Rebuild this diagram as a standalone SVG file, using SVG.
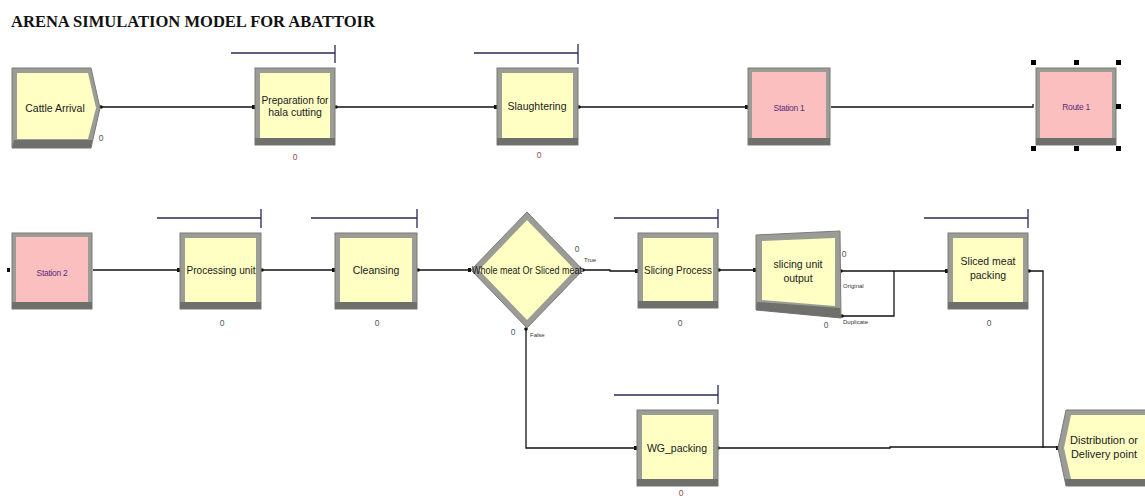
<svg xmlns="http://www.w3.org/2000/svg" width="1145" height="498" viewBox="0 0 1145 498">
<style>
.bord{fill:#9c9c96;stroke:#7a7a76;stroke-width:1}
.shade{fill:#6f6f6b}
.yel{fill:#ffffc4}
.pink{fill:#fcbfbf}
.lbl{font-family:"Liberation Sans",Arial,sans-serif;font-size:10.5px;fill:#1a1a1a;text-anchor:middle}
.st{font-family:"Liberation Sans",Arial,sans-serif;font-size:8.5px;fill:#5a2d7a;text-anchor:middle;letter-spacing:-0.3px}
.cnt{font-family:"Liberation Sans",Arial,sans-serif;font-size:8.5px;fill:#555;text-anchor:middle}
.cntr{font-family:"Liberation Sans",Arial,sans-serif;font-size:8.5px;fill:#9a4a4a;text-anchor:middle}
.sm{font-family:"Liberation Sans",Arial,sans-serif;font-size:6px;fill:#333}
.res{stroke:#2a2a55;stroke-width:1.3;fill:none}
.con{stroke:#111;stroke-width:1.3;fill:none}
.pt{fill:#111}
.hdl{fill:#000}
</style>
<text x="11" y="27" font-family="Liberation Serif,Times New Roman,serif" font-weight="bold" font-size="16" fill="#111" textLength="364" lengthAdjust="spacingAndGlyphs">ARENA SIMULATION MODEL  FOR ABATTOIR</text>

<g id="connectors">
<path class="con" d="M101,107H254"/>
<path class="con" d="M336,107H496"/>
<path class="con" d="M579,107H747"/>
<path class="con" d="M831,107H1033v-3"/>
<path class="con" d="M93,270H179"/>
<path class="con" d="M262,270H334"/>
<path class="con" d="M418,270H470"/>
<path class="con" d="M583,270H610v1H637"/>
<path class="con" d="M719,270H755"/>
<path class="con" d="M841,271H947"/>
<path class="con" d="M842,316H894V271"/>
<path class="con" d="M1029,271H1043V448"/>
<path class="con" d="M718,448H890v-1H1058"/>
<path class="con" d="M526,329V448H636"/>
<rect class="pt" x="252" y="105" width="3" height="4"/>
<rect class="pt" x="494" y="105" width="3" height="4"/>
<rect class="pt" x="745" y="105" width="3" height="4"/>
<rect class="pt" x="7" y="268" width="3" height="4"/>
<rect class="pt" x="177" y="268" width="3" height="4"/>
<rect class="pt" x="332" y="268" width="3" height="4"/>
<rect class="pt" x="468" y="268" width="3" height="4"/>
<rect class="pt" x="635" y="269" width="3" height="4"/>
<rect class="pt" x="753" y="268" width="3" height="4"/>
<rect class="pt" x="945" y="269" width="3" height="4"/>
<rect class="pt" x="634" y="446" width="3" height="4"/>
<rect class="pt" x="1056" y="446" width="3" height="4"/>
<circle class="pt" cx="101" cy="107" r="1.8"/>
<circle class="pt" cx="336" cy="107" r="1.8"/>
<circle class="pt" cx="579" cy="107" r="1.8"/>
<circle class="pt" cx="262" cy="270" r="1.8"/>
<circle class="pt" cx="418" cy="270" r="1.8"/>
<circle class="pt" cx="583" cy="270" r="1.8"/>
<circle class="pt" cx="719" cy="270" r="1.8"/>
<circle class="pt" cx="841" cy="271" r="1.8"/>
<circle class="pt" cx="842" cy="316" r="1.8"/>
<circle class="pt" cx="1029" cy="271" r="1.8"/>
<circle class="pt" cx="718" cy="448" r="1.8"/>
<circle class="pt" cx="526" cy="329" r="1.8"/>
</g>

<g id="cattle-arrival">
<polygon class="bord" points="12,68 91,68 100,108 91,148 12,148"/>
<polygon class="shade" points="14,140 92,140 91,148 12,148"/>
<polygon class="yel" points="17,73 88,73 96,108 88,139 17,139"/>
<text class="lbl" x="55" y="112">Cattle Arrival</text>
<text class="cnt" x="101" y="141">0</text>
</g>

<g id="preparation">
<path class="res" d="M231,53H335M335,45V63"/>
<rect class="bord" x="255" y="68" width="80" height="77"/>
<rect class="shade" x="255" y="138" width="80" height="7"/>
<rect class="yel" x="260" y="73" width="70" height="65"/>
<text class="lbl" x="295" y="104" textLength="67" lengthAdjust="spacingAndGlyphs">Preparation for</text>
<text class="lbl" x="295" y="116">hala cutting</text>
<text class="cntr" x="295" y="160">0</text>
</g>

<g id="slaughtering">
<path class="res" d="M474,53H578M578,44V64"/>
<rect class="bord" x="497" y="68" width="81" height="77"/>
<rect class="shade" x="497" y="138" width="81" height="7"/>
<rect class="yel" x="502" y="73" width="71" height="65"/>
<text class="lbl" x="537" y="110">Slaughtering</text>
<text class="cntr" x="539" y="158">0</text>
</g>

<g id="station1">
<rect class="bord" x="748" y="68" width="82" height="77"/>
<rect class="shade" x="748" y="138" width="82" height="7"/>
<rect class="pink" x="752" y="72" width="74" height="66"/>
<text class="st" x="789" y="111">Station 1</text>
</g>

<g id="route1">
<rect class="bord" x="1036" y="68" width="80" height="77"/>
<rect class="shade" x="1036" y="138" width="80" height="7"/>
<rect class="pink" x="1040" y="72" width="72" height="66"/>
<text class="st" x="1076" y="110">Route 1</text>
<rect class="hdl" x="1031" y="60" width="5" height="5"/>
<rect class="hdl" x="1074" y="60" width="5" height="5"/>
<rect class="hdl" x="1116" y="60" width="5" height="5"/>
<rect class="hdl" x="1116" y="104" width="5" height="5"/>
<rect class="hdl" x="1031" y="146" width="5" height="5"/>
<rect class="hdl" x="1074" y="146" width="5" height="5"/>
<rect class="hdl" x="1116" y="146" width="5" height="5"/>
</g>

<g id="station2">
<rect class="bord" x="12" y="233" width="80" height="76"/>
<rect class="shade" x="12" y="302" width="80" height="7"/>
<rect class="pink" x="16" y="237" width="72" height="65"/>
<text class="st" x="52" y="276">Station 2</text>
</g>

<g id="processing-unit">
<path class="res" d="M157,218H261M261,209V228"/>
<rect class="bord" x="180" y="233" width="81" height="76"/>
<rect class="shade" x="180" y="302" width="81" height="7"/>
<rect class="yel" x="185" y="238" width="71" height="64"/>
<text class="lbl" x="221" y="274" textLength="69" lengthAdjust="spacingAndGlyphs">Processing unit</text>
<text class="cnt" x="222" y="326">0</text>
</g>

<g id="cleansing">
<path class="res" d="M311,218H417M417,209V228"/>
<rect class="bord" x="335" y="233" width="82" height="76"/>
<rect class="shade" x="335" y="302" width="82" height="7"/>
<rect class="yel" x="340" y="238" width="72" height="64"/>
<text class="lbl" x="376" y="274">Cleansing</text>
<text class="cnt" x="377" y="326">0</text>
</g>

<g id="decide">
<polygon class="bord" points="527,212 583,270 527,328 471,270"/>
<polygon class="yel" points="527,220 575,270 527,320 479,270"/>
<text class="lbl" x="527" y="274" font-size="10" textLength="110" lengthAdjust="spacingAndGlyphs">Whole meat Or Sliced meat</text>
<text class="cnt" x="577" y="252">0</text>
<text class="sm" x="584" y="262">True</text>
<text class="cnt" x="513" y="335">0</text>
<text class="sm" x="530" y="337">False</text>
</g>

<g id="slicing-process">
<path class="res" d="M614,218H718M718,209V228"/>
<rect class="bord" x="638" y="233" width="80" height="75"/>
<rect class="shade" x="638" y="301" width="80" height="7"/>
<rect class="yel" x="643" y="238" width="70" height="63"/>
<text class="lbl" x="678" y="274" textLength="68" lengthAdjust="spacingAndGlyphs">Slicing Process</text>
<text class="cnt" x="680" y="326">0</text>
</g>

<g id="slicing-unit-output">
<polygon class="bord" points="756,235 840,231 841,318 756,310"/>
<polygon class="shade" points="757,302 840,308 841,318 756,310"/>
<polygon class="yel" points="762,241 835,238 835,306 762,300"/>
<text class="lbl" x="798" y="268">slicing unit</text>
<text class="lbl" x="798" y="282">output</text>
<text class="cnt" x="844" y="257">0</text>
<text class="sm" x="843" y="288">Original</text>
<text class="cnt" x="826" y="328">0</text>
<text class="sm" x="843" y="324">Duplicate</text>
</g>

<g id="sliced-meat-packing">
<path class="res" d="M924,218H1028M1028,209V228"/>
<rect class="bord" x="948" y="233" width="80" height="76"/>
<rect class="shade" x="948" y="302" width="80" height="7"/>
<rect class="yel" x="953" y="238" width="70" height="64"/>
<text class="lbl" x="988" y="265">Sliced meat</text>
<text class="lbl" x="988" y="279">packing</text>
<text class="cnt" x="989" y="326">0</text>
</g>

<g id="wg-packing">
<path class="res" d="M614,395H718M718,385V404"/>
<rect class="bord" x="637" y="410" width="81" height="76"/>
<rect class="shade" x="637" y="479" width="81" height="7"/>
<rect class="yel" x="642" y="415" width="71" height="64"/>
<text class="lbl" x="677" y="452">WG_packing</text>
<text class="cntr" x="681" y="496" font-size="7.5">0</text>
</g>

<g id="distribution">
<polygon class="bord" points="1066,410 1146,410 1146,486 1066,486 1058,448"/>
<polygon class="shade" points="1065,479 1146,479 1146,486 1066,486"/>
<polygon class="yel" points="1071,415 1146,415 1146,479 1071,479 1064,448"/>
<text class="lbl" x="1104" y="444" textLength="68" lengthAdjust="spacingAndGlyphs">Distribution or</text>
<text class="lbl" x="1104" y="458" textLength="66" lengthAdjust="spacingAndGlyphs">Delivery point</text>
</g>
</svg>
